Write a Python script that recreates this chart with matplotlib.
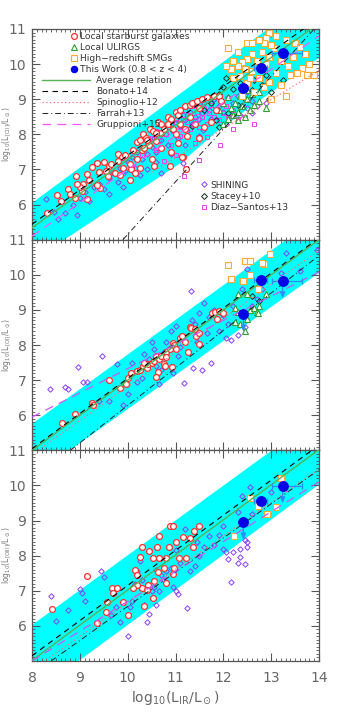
import numpy as np
import matplotlib
matplotlib.use("Agg")
import matplotlib.pyplot as plt
from matplotlib.ticker import MultipleLocator
from matplotlib.lines import Line2D

# ---------------- data ----------------
# This Work (same LIR bins in all panels)
tw_x = [12.42, 12.79, 13.24]
tw_xerr_lo = [0.05, 0.15, 0.23]
tw_xerr_hi = [0.05, 0.12, 0.40]
tw1_y = [9.33, 9.90, 10.32]
tw2_y = [8.88, 9.85, 9.83]
tw3_y = [8.96, 9.57, 9.99]
tw2_uplim = [True, False, True]
tw3_uplim = [True, False, True]

# shaded band edges (x, y)
band1_up_x, band1_up_y = [8.0, 14.0], [6.07, 12.1]
band1_lo_x, band1_lo_y = [8.0, 8.65, 11.1, 11.9, 14.0], [4.4, 5.0, 7.2, 8.15, 10.2]
band2_up_x, band2_up_y = [8.0, 14.0], [5.78, 11.7]
band2_lo_x, band2_lo_y = [8.0, 14.0], [4.26, 10.08]
band3_up_x, band3_up_y = [8.0, 14.0], [6.05, 12.0]
band3_lo_x, band3_lo_y = [8.0, 14.0], [4.05, 10.05]

# relations (end points)
avg1_x, avg1_y = [8.0, 14.0], [5.34, 11.16]
bon1_x, bon1_y = [8.0, 14.0], [5.44, 11.32]
spi1_x, spi1_y = [10.5, 14.0], [6.92, 9.82]
far1_x, far1_y = [9.9, 14.0], [5.0, 11.15]
gru1_x, gru1_y = [8.0, 14.0], [5.1, 10.8]

avg2_x, avg2_y = [8.0, 14.0], [5.0, 11.0]
bon2_x, bon2_y = [8.0, 14.0], [5.05, 11.05]
spi2_x, spi2_y = [8.0, 14.0], [4.88, 10.7]
far2_x, far2_y = [8.8, 14.0], [5.0, 10.55]
gru2_x, gru2_y = [8.0, 14.0], [5.95, 10.08]

avg3_x, avg3_y = [8.0, 14.0], [5.02, 11.02]
bon3_x, bon3_y = [8.0, 14.0], [5.15, 11.15]
spi3_x, spi3_y = [8.3, 14.0], [5.03, 10.47]
far3_x, far3_y = [8.4, 14.0], [5.0, 10.45]
gru3_x, gru3_y = [8.0, 14.0], [5.0, 10.1]

# Local starburst galaxies
sb1_x = [8.31, 8.52, 8.76, 8.8, 8.9, 8.93, 9.04, 9.06, 9.14, 9.25, 9.35, 9.4, 9.42, 9.6, 9.65,
         9.73, 9.8, 9.88, 9.95, 10.05, 10.08, 10.19, 10.25, 10.33, 10.38, 10.47, 10.52, 10.64,
         10.7, 10.85, 10.9, 11.0, 11.05, 11.1, 11.2, 11.3, 11.35, 11.45, 11.55, 11.65, 11.8,
         11.9, 11.5, 11.3, 11.1, 10.95, 10.85, 10.6, 10.45, 10.3, 10.2, 10.05, 9.9, 9.85, 10.15,
         10.25, 10.5, 10.7, 10.9, 11.05, 11.25, 11.5, 11.6, 11.75, 11.15, 10.88, 9.58, 9.15,
         10.55, 10.35, 11.0, 11.2, 9.8, 9.35, 10.7, 11.4, 11.85, 8.6, 9.0, 9.55, 10.12, 10.6,
         11.13, 11.21, 10.4, 10.75, 9.5, 8.95, 9.2, 11.95]
sb1_y = [5.77, 6.26, 6.45, 6.3, 6.2, 6.8, 6.38, 6.6, 6.86, 7.07, 7.18, 6.93, 6.48, 7.11, 7.15,
         6.9, 7.45, 7.35, 7.4, 6.69, 7.02, 7.78, 7.85, 8.02, 7.9, 8.16, 8.1, 8.35, 8.3, 8.5,
         8.45, 8.65, 8.55, 8.7, 8.8, 8.85, 8.9, 8.95, 9.0, 9.05, 9.1, 9.1, 8.75, 8.5, 8.3, 8.15,
         8.3, 7.8, 7.7, 7.55, 7.3, 7.15, 7.05, 6.85, 6.9, 7.05, 7.3, 7.6, 7.5, 7.75, 7.95, 7.9,
         8.2, 8.35, 7.35, 7.1, 6.8, 6.15, 7.1, 7.6, 8.0, 8.15, 7.25, 6.55, 8.05, 8.3, 8.7, 6.1,
         6.5, 6.95, 7.55, 8.05, 7.35, 7.0, 7.85, 8.15, 7.2, 6.6, 6.7, 8.95]

sb2_x = [8.63, 8.9, 9.26, 9.28, 9.6, 9.83, 9.97, 10.0, 10.08, 10.2, 10.25, 10.33, 10.4, 10.42,
         10.5, 10.55, 10.6, 10.65, 10.7, 10.75, 10.78, 10.8, 10.88, 10.92, 10.95, 10.97, 11.02,
         11.1, 11.13, 11.3, 11.33, 11.4, 11.43, 11.5, 11.5, 11.76, 11.83, 11.9, 11.87, 12.0,
         11.27, 10.64, 10.6, 10.8, 11.2, 10.35]
sb2_y = [5.78, 6.04, 6.34, 6.28, 7.0, 6.79, 6.9, 7.05, 7.2, 7.25, 7.3, 7.4, 7.35, 7.45, 7.5,
         7.55, 7.7, 7.6, 7.7, 7.45, 7.4, 7.8, 7.9, 7.38, 8.05, 8.0, 7.9, 8.2, 8.25, 8.52, 8.48,
         8.45, 8.25, 8.35, 8.04, 8.9, 8.95, 8.98, 8.75, 8.9, 7.8, 7.24, 7.1, 7.65, 8.1, 7.5]

sb3_x = [8.41, 9.16, 9.35, 9.56, 9.55, 9.67, 9.69, 9.78, 9.91, 10.01, 10.15, 10.19, 10.26, 10.31,
         10.29, 10.34, 10.43, 10.45, 10.52, 10.54, 10.56, 10.61, 10.66, 10.64, 10.65, 10.81,
         10.8, 10.77, 10.87, 10.89, 10.95, 10.94, 10.97, 11.02, 11.08, 11.15, 11.22, 11.3,
         11.37, 11.39, 11.49, 10.2, 10.4, 10.12]
sb3_y = [6.49, 7.42, 6.07, 6.69, 6.39, 7.09, 6.93, 7.07, 6.69, 6.32, 7.59, 7.45, 7.96, 8.24,
         7.07, 6.58, 7.17, 8.13, 7.94, 6.79, 7.29, 8.24, 7.93, 7.54, 8.57, 7.92, 7.23, 7.65,
         8.26, 8.85, 8.84, 7.49, 7.66, 8.39, 7.92, 8.54, 7.92, 8.51, 8.26, 8.69, 8.84, 7.16,
         7.02, 7.07]

# Local ULIRGs
ul1_x = [11.9, 12.0, 12.1, 12.15, 12.2, 12.25, 12.3, 12.35, 12.4, 12.45, 12.5, 12.55, 12.6,
         12.65, 12.75, 12.9, 12.3, 12.1, 12.5, 12.0, 12.75]
ul1_y = [8.7, 8.9, 9.05, 8.75, 8.55, 8.9, 8.65, 9.1, 8.8, 8.5, 9.0, 8.7, 9.15, 8.85, 8.95,
         8.75, 8.4, 8.45, 9.25, 8.3, 9.2]
ul2_x = [12.3, 12.5, 12.25, 12.3, 12.35, 12.25, 12.4, 12.55, 12.65, 12.7, 12.75, 12.72, 12.9,
         12.45, 12.5]
ul2_y = [9.45, 9.45, 9.05, 8.95, 8.6, 8.65, 8.9, 9.0, 9.05, 8.95, 9.1, 8.9, 9.45, 8.4, 8.75]

# High-redshift SMGs
smg1_x = [12.1, 12.5, 12.6, 12.95, 12.9, 12.85, 13.1, 13.3, 13.5, 13.7, 13.8, 13.65, 13.55,
          13.4, 13.2, 13.05, 12.95, 12.8, 12.7, 12.6, 12.5, 12.4, 12.3, 12.2, 12.15, 12.05,
          12.35, 12.5, 12.6, 12.75, 12.85, 12.95, 13.1, 13.2, 12.65, 12.4, 12.2, 12.45, 13.35,
          13.45, 13.6, 13.75, 13.9, 13.0, 13.3, 12.55, 12.9, 13.0, 12.3, 12.75]
smg1_y = [10.45, 10.6, 10.6, 10.9, 10.75, 10.6, 10.8, 10.7, 10.6, 10.3, 10.0, 9.9, 9.75, 9.7,
          10.1, 10.45, 10.2, 10.35, 10.1, 10.3, 10.15, 10.05, 9.95, 10.1, 9.85, 9.95, 9.65,
          9.45, 9.8, 9.6, 9.35, 9.5, 9.75, 9.4, 9.2, 9.1, 9.6, 9.85, 9.95, 10.2, 10.5, 9.7,
          9.7, 9.0, 9.1, 9.6, 10.0, 10.55, 10.35, 10.7]
smg2_x = [12.1, 12.15, 12.45, 12.55, 12.84, 12.97, 12.42, 12.55, 12.73, 12.8]
smg2_y = [10.27, 9.89, 10.38, 10.38, 10.3, 10.6, 9.82, 9.99, 9.61, 10.35]
smg3_x = [12.23, 12.56, 12.73, 12.91, 13.1, 13.2]
smg3_y = [8.56, 9.64, 9.41, 9.19, 9.39, 10.2]

# SHINING
sh1_x = [8.3, 8.45, 8.55, 8.7, 8.85, 9.0, 9.1, 9.2, 9.3, 9.4, 9.5, 9.6, 9.7, 9.8, 9.85, 9.95,
         10.0, 10.1, 10.15, 10.2, 10.3, 10.35, 10.4, 10.45, 10.5, 10.55, 10.6, 10.65, 10.7,
         10.75, 10.8, 10.85, 10.9, 10.95, 11.0, 11.05, 11.1, 11.15, 11.2, 11.25, 11.3, 11.35,
         11.4, 11.45, 11.5, 11.55, 11.6, 11.7, 11.75, 11.8, 11.9, 12.0, 12.1, 12.2, 12.3, 12.4,
         12.5, 12.6, 12.7, 10.4, 10.6, 10.25, 10.9, 11.2, 9.9, 9.6, 8.95, 11.5, 10.7, 12.05,
         12.35, 12.6, 12.5, 12.9, 11.16, 11.58]
sh1_y = [6.15, 5.8, 5.6, 5.75, 6.0, 6.2, 6.35, 6.1, 6.5, 6.6, 6.45, 6.75, 6.9, 6.65, 7.05,
         6.95, 7.2, 7.35, 7.05, 7.5, 7.3, 7.6, 7.45, 7.8, 7.65, 7.9, 7.5, 8.05, 7.85, 8.15, 8.0,
         7.7, 8.3, 8.1, 8.45, 7.9, 8.25, 8.55, 8.4, 8.1, 8.65, 8.3, 8.5, 8.8, 8.45, 8.6, 8.9,
         8.7, 8.45, 9.0, 8.8, 8.65, 9.05, 8.9, 9.1, 8.85, 9.2, 8.95, 8.8, 7.0, 7.2, 6.85, 7.45,
         7.7, 6.5, 6.3, 5.7, 7.95, 6.9, 8.3, 8.55, 8.6, 8.75, 8.9, 7.17, 8.11]
sh2_x = [8.38, 8.68, 8.75, 8.97, 9.06, 9.15, 9.46, 9.77, 9.6, 9.9, 10.0, 10.2, 10.3, 10.35,
         10.45, 10.5, 10.55, 10.6, 10.65, 10.7, 10.75, 10.8, 10.9, 10.95, 11.0, 11.05, 11.1,
         11.15, 11.32, 11.18, 11.36, 11.35, 11.4, 11.5, 11.6, 11.65, 11.7, 11.8, 11.9, 12.0,
         12.05, 12.1, 12.2, 12.3, 12.4, 12.45, 12.49, 12.6, 12.7, 12.8, 13.2, 13.32, 13.95,
         13.6, 10.1, 9.4, 11.45, 11.55, 11.75, 12.15]
sh2_y = [6.75, 6.8, 6.75, 7.37, 6.96, 6.95, 7.68, 7.47, 6.4, 6.3, 6.6, 6.95, 7.05, 7.75, 7.6,
         8.1, 7.9, 7.4, 6.9, 7.3, 7.8, 8.1, 8.4, 7.2, 8.55, 7.7, 7.95, 8.25, 9.55, 6.93, 7.35,
         8.7, 8.6, 8.9, 9.2, 8.35, 8.8, 9.0, 8.4, 8.85, 8.2, 8.6, 9.1, 8.3, 9.6, 8.5, 10.17,
         9.1, 9.3, 9.6, 10.05, 10.63, 10.7, 10.1, 7.5, 6.4, 8.1, 7.3, 7.5, 8.15]
sh3_x = [8.4, 8.5, 8.75, 9.0, 9.05, 9.1, 9.45, 9.5, 9.65, 9.75, 9.85, 10.0, 10.05, 10.1, 10.15,
         10.2, 10.25, 10.35, 10.4, 10.45, 10.5, 10.55, 10.6, 10.65, 10.7, 10.75, 10.8, 10.9,
         10.95, 11.0, 11.05, 11.1, 11.2, 11.25, 11.3, 11.4, 11.45, 11.5, 11.6, 11.7, 11.8,
         11.9, 12.0, 12.05, 12.1, 12.15, 12.2, 12.3, 12.35, 12.4, 12.45, 12.5, 12.55, 12.45,
         12.5, 12.6, 12.75, 13.0, 12.3, 12.0, 12.35, 10.3, 10.6, 11.0]
sh3_y = [6.85, 6.15, 6.45, 7.05, 6.95, 6.7, 7.55, 7.4, 6.3, 6.55, 6.1, 5.7, 6.55, 6.7, 7.2,
         7.55, 7.85, 6.6, 6.1, 6.35, 7.0, 7.1, 7.6, 7.0, 7.45, 7.3, 7.55, 7.65, 7.1, 8.15, 6.9,
         7.8, 8.75, 6.5, 7.55, 7.7, 8.4, 8.0, 8.25, 8.55, 8.3, 8.6, 8.85, 8.1, 7.9, 7.25, 8.1,
         7.8, 8.2, 9.7, 8.45, 8.25, 9.95, 7.75, 8.4, 9.2, 9.4, 9.8, 9.25, 8.2, 7.95, 7.3, 6.6,
         7.0]

# Stacey+10
st1_x = [11.6, 11.75, 11.9, 12.05, 12.2, 12.35, 12.45, 12.6, 12.65, 12.8, 12.9, 13.0, 12.1,
         11.85, 12.95, 13.25, 12.0, 11.35, 11.9, 12.3]
st1_y = [8.7, 8.9, 9.15, 9.6, 9.3, 9.45, 9.0, 9.25, 9.55, 9.4, 9.7, 9.2, 8.6, 8.4, 9.0, 9.55,
         9.35, 8.25, 8.2, 8.85]
st2_x = [12.6, 12.75]
st2_y = [9.4, 9.25]

# Diaz-Santos+13
ds1_x = [10.4, 10.5, 10.6, 10.65, 10.7, 10.8, 10.85, 10.9, 10.95, 11.0, 11.05, 11.1, 11.15,
         11.2, 11.25, 11.3, 11.35, 11.4, 11.45, 11.5, 11.55, 11.6, 11.65, 11.7, 11.75, 11.8,
         11.85, 11.9, 11.95, 12.0, 12.05, 12.1, 12.2, 12.3, 11.3, 11.5, 11.1, 10.9, 10.6, 10.3,
         10.1, 9.9, 11.18, 11.21, 11.5, 11.65, 11.93, 12.45, 12.65, 12.2, 11.0, 11.4, 10.75]
ds1_y = [7.7, 7.9, 8.1, 7.8, 8.3, 8.0, 8.2, 8.45, 8.1, 8.35, 8.6, 8.2, 8.45, 8.7, 8.35, 8.55,
         8.8, 8.4, 8.65, 8.9, 8.5, 8.75, 8.3, 8.6, 8.85, 8.5, 8.7, 8.4, 8.9, 8.6, 8.8, 8.5, 8.7,
         8.45, 8.15, 8.2, 7.95, 7.7, 7.55, 7.4, 7.1, 6.9, 6.8, 7.03, 7.28, 7.92, 7.71, 8.48,
         8.3, 8.15, 7.4, 7.75, 7.25]

# ---------------- styling ----------------
C_BAND = "#00ffff"
C_AVG = "#55b255"
C_SPI = "#ff6f6f"
C_GRU1 = "#ff55ff"
C_GRU = "#cc55ff"
C_SB = "#ff3030"
C_UL = "#30a030"
C_SMG = "#ffaa30"
C_SH = "#8a3cff"
C_DS = "#ee3cee"
C_TW = "#0000e6"
C_ERR = "#2a8cff"
C_AX = "#555555"

plt.rcParams["font.family"] = "DejaVu Sans"

fig = plt.figure(figsize=(3.45, 7.15), dpi=100)
W, H = 345.0, 715.0
left, right = 32.0, 319.0
tops = [29.0, 239.7, 450.3]
ph = 210.7
axes = []
for t in tops:
    axes.append(fig.add_axes([left / W, 1 - (t + ph) / H, (right - left) / W, ph / H]))

panels = [
    dict(band=(band1_up_x, band1_up_y, band1_lo_x, band1_lo_y),
         lines=[(avg1_x, avg1_y), (bon1_x, bon1_y), (spi1_x, spi1_y), (far1_x, far1_y), (gru1_x, gru1_y)],
         gcol=C_GRU1, sb=(sb1_x, sb1_y), ul=(ul1_x, ul1_y), smg=(smg1_x, smg1_y),
         sh=(sh1_x, sh1_y), st=(st1_x, st1_y), ds=(ds1_x, ds1_y),
         tw=tw1_y, lim=[False, False, False], ylab=r"log$_{10}$(L$_{\rm [CII]}$/L$_\odot$)"),
    dict(band=(band2_up_x, band2_up_y, band2_lo_x, band2_lo_y),
         lines=[(avg2_x, avg2_y), (bon2_x, bon2_y), (spi2_x, spi2_y), (far2_x, far2_y), (gru2_x, gru2_y)],
         gcol=C_GRU, sb=(sb2_x, sb2_y), ul=(ul2_x, ul2_y), smg=(smg2_x, smg2_y),
         sh=(sh2_x, sh2_y), st=(st2_x, st2_y), ds=([], []),
         tw=tw2_y, lim=tw2_uplim, ylab=r"log$_{10}$(L$_{\rm [OI]}$/L$_\odot$)"),
    dict(band=(band3_up_x, band3_up_y, band3_lo_x, band3_lo_y),
         lines=[(avg3_x, avg3_y), (bon3_x, bon3_y), (spi3_x, spi3_y), (far3_x, far3_y), (gru3_x, gru3_y)],
         gcol=C_GRU, sb=(sb3_x, sb3_y), ul=([], []), smg=(smg3_x, smg3_y),
         sh=(sh3_x, sh3_y), st=([], []), ds=([], []),
         tw=tw3_y, lim=tw3_uplim, ylab=r"log$_{10}$(L$_{\rm [OIII]}$/L$_\odot$)"),
]

for i, (ax, p) in enumerate(zip(axes, panels)):
    ux, uy, lx, ly = p["band"]
    xx = np.linspace(8, 14, 300)
    ax.fill_between(xx, np.interp(xx, lx, ly), np.interp(xx, ux, uy),
                    color=C_BAND, lw=0, zorder=1)

    mk = dict(ls="none", zorder=3)
    ax.plot(*p["sh"], marker="D", ms=2.8, mfc="none", mec=C_SH, mew=0.7, **mk)
    ax.plot(*p["ds"], marker="s", ms=3.4, mfc="none", mec=C_DS, mew=0.7, **mk)
    ax.plot(*p["st"], marker="D", ms=3.0, mfc="none", mec="#103020", mew=0.7, **mk)
    ax.plot(*p["ul"], marker="^", ms=4.0, mfc="white", mec=C_UL, mew=0.8, **mk)
    ax.plot(*p["smg"], marker="s", ms=4.0, mfc="white", mec=C_SMG, mew=0.8, **mk)
    ax.plot(*p["sb"], marker="o", ms=4.2, mfc="white", mec=C_SB, mew=0.9, **mk)

    (a, b), (c, d), (e, f), (g, h), (k, m) = p["lines"]
    ax.plot(a, b, color=C_AVG, lw=1.0, zorder=4)
    ax.plot(c, d, color="black", lw=0.8, ls=(0, (5, 4)), zorder=4)
    ax.plot(e, f, color=C_SPI, lw=0.9, ls=(0, (1, 2)), zorder=4)
    ax.plot(g, h, color="#222222", lw=0.7, ls=(0, (6, 3, 1, 3)), zorder=4)
    ax.plot(k, m, color=p["gcol"], lw=0.9, ls=(0, (7, 5)), zorder=4)

    ax.errorbar(tw_x, p["tw"], xerr=[tw_xerr_lo, tw_xerr_hi], fmt="none",
                ecolor=C_ERR, elinewidth=0.9, capsize=2, capthick=0.9, zorder=5)
    for x0, y0, lim in zip(tw_x, p["tw"], p["lim"]):
        if lim:
            ax.annotate("", xy=(x0, y0 - 0.5), xytext=(x0, y0),
                        arrowprops=dict(arrowstyle="-|>,head_width=0.15,head_length=0.35",
                                        color=C_ERR, lw=0.9, shrinkA=0, shrinkB=0),
                        zorder=5)
    ax.plot(tw_x, p["tw"], ls="none", marker="o", ms=6.8, mfc=C_TW, mec=C_TW, zorder=6)

    ax.set_xlim(8, 14)
    ax.set_ylim(5, 11)
    ax.set_yticks([6, 7, 8, 9, 10, 11])
    ax.xaxis.set_major_locator(MultipleLocator(1))
    ax.xaxis.set_minor_locator(MultipleLocator(0.1))
    ax.yaxis.set_minor_locator(MultipleLocator(0.1))
    ax.tick_params(which="both", direction="in", top=True, right=True, colors=C_AX,
                   labelcolor="#666666", labelsize=10)
    ax.tick_params(which="major", length=6, width=0.8)
    ax.tick_params(which="minor", length=2.5, width=0.6)
    ax.tick_params(axis="y", pad=4)
    for s in ax.spines.values():
        s.set_color(C_AX)
        s.set_linewidth(0.9)
    if i < 2:
        ax.tick_params(labelbottom=False)
    else:
        ax.set_xticks([8, 9, 10, 11, 12, 13, 14])
        ax.tick_params(axis="x", pad=7)
        ax.set_xlabel(r"log$_{10}$(L$_{\rm IR}$/L$_\odot$)", fontsize=10, color="#666666",
                      labelpad=3)
    # y label squeezed into the narrow left margin
    yc = 1 - (tops[i] + ph / 2) / H
    fig.text(1.0 / W, yc, p["ylab"], rotation=90, ha="left", va="center",
             fontsize=5.5, color="#777777")

# legends in the top panel
ax = axes[0]
fs = 6.6
h1 = [Line2D([], [], ls="none", marker="o", ms=4.2, mfc="white", mec=C_SB, mew=0.9),
      Line2D([], [], ls="none", marker="^", ms=4.0, mfc="white", mec=C_UL, mew=0.8),
      Line2D([], [], ls="none", marker="s", ms=4.0, mfc="white", mec=C_SMG, mew=0.8),
      Line2D([], [], ls="none", marker="o", ms=4.4, mfc=C_TW, mec=C_TW)]
l1 = ax.legend(h1, ["Local starburst galaxies", "Local ULIRGS", "High\u2212redshift SMGs",
                    "This Work (0.8 < z < 4)"],
               loc="upper left", bbox_to_anchor=(0.13, 0.985), frameon=False, fontsize=fs,
               handlelength=1.0, handletextpad=0.15, labelspacing=0.22, borderpad=0,
               borderaxespad=0)
for t in l1.get_texts():
    t.set_color("#333333")
ax.add_artist(l1)

h2 = [Line2D([], [], color=C_AVG, lw=1.0),
      Line2D([], [], color="black", lw=0.8, ls=(0, (5, 4))),
      Line2D([], [], color=C_SPI, lw=0.9, ls=(0, (1, 2))),
      Line2D([], [], color="#222222", lw=0.7, ls=(0, (6, 3, 1, 3))),
      Line2D([], [], color=C_GRU1, lw=0.9, ls=(0, (7, 5)))]
l2 = ax.legend(h2, ["Average relation", "Bonato+14", "Spinoglio+12", "Farrah+13", "Gruppioni+15"],
               loc="upper left", bbox_to_anchor=(0.035, 0.775), frameon=False, fontsize=fs,
               handlelength=5.2, handletextpad=0.7, labelspacing=0.2, borderpad=0,
               borderaxespad=0)
for t in l2.get_texts():
    t.set_color("#333333")
ax.add_artist(l2)

h3 = [Line2D([], [], ls="none", marker="D", ms=2.8, mfc="none", mec=C_SH, mew=0.7),
      Line2D([], [], ls="none", marker="D", ms=3.0, mfc="none", mec="#103020", mew=0.7),
      Line2D([], [], ls="none", marker="s", ms=3.4, mfc="none", mec=C_DS, mew=0.7)]
l3 = ax.legend(h3, ["SHINING", "Stacey+10", "D\u00edaz\u2212Santos+13"],
               loc="upper left", bbox_to_anchor=(0.585, 0.28), frameon=False, fontsize=fs,
               handlelength=1.0, handletextpad=0.15, labelspacing=0.22, borderpad=0,
               borderaxespad=0)
for t in l3.get_texts():
    t.set_color("#333333")

fig.savefig("out.png", dpi=100)
